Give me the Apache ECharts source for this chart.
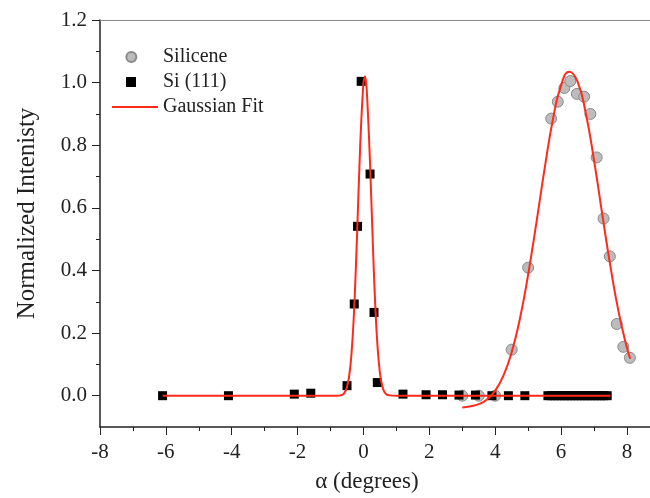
<!DOCTYPE html>
<html>
<head>
<meta charset="utf-8">
<script src="https://cdn.jsdelivr.net/npm/echarts@6/dist/echarts.min.js"></script>
<style>
  html, body { margin: 0; padding: 0; background: #fff; }
  #chart { width: 650px; height: 498px; }
</style>
</head>
<body>
<div id="chart"></div>
<script>
  var siliceneX = [3.0, 3.5, 4.0, 4.5, 5.0, 5.7, 5.9, 6.1, 6.28, 6.48, 6.7, 6.89, 7.08, 7.29, 7.48, 7.69, 7.89, 8.09];
  var siliceneY = [0.0, 0.0, 0.0, 0.147, 0.409, 0.885, 0.939, 0.983, 1.005, 0.964, 0.955, 0.9, 0.761, 0.566, 0.445, 0.229, 0.156, 0.121];

  var siX = [-6.1, -4.1, -2.1, -1.6, -0.5, -0.28, -0.18, -0.07, 0.2, 0.32, 0.42, 1.2, 1.9, 2.4, 2.9, 3.4, 3.9, 4.4, 4.9,
             5.6, 5.7, 5.8, 5.9, 6.0, 6.1, 6.2, 6.3, 6.4, 6.5, 6.6, 6.7, 6.8, 6.9, 7.0, 7.1, 7.2, 7.3, 7.4];
  var siY = [0.0, 0.0, 0.005, 0.008, 0.032, 0.293, 0.541, 1.004, 0.708, 0.266, 0.042, 0.005, 0.003, 0.003, 0.002, 0.002, 0.0, 0.0, 0.0,
             0, 0, 0, 0, 0, 0, 0, 0, 0, 0, 0, 0, 0, 0, 0, 0, 0, 0, 0];

  // fitted curves
  var siFitX = [-6.1, -1.2, -1.0, -0.8, -0.7, -0.6, -0.5, -0.4, -0.3, -0.2, -0.1, 0.0, 0.05, 0.1, 0.2, 0.3, 0.4, 0.5, 0.6, 0.7, 0.8, 1.0, 1.2, 7.5];
  var siFitY = [0.0, 0.0, 0.0, 0.0, 0.001, 0.006, 0.027, 0.091, 0.24, 0.497, 0.798, 1.0, 1.02, 0.975, 0.741, 0.438, 0.202, 0.072, 0.02, 0.004, 0.001, 0.0, 0.0, 0.0];

  var silFitX = [3.0, 3.25, 3.5, 3.75, 4.0, 4.25, 4.5, 4.75, 5.0, 5.25, 5.5, 5.75, 6.0, 6.25, 6.5, 6.75, 7.0, 7.25, 7.5, 7.75, 8.0, 8.1];
  var silFitY = [-0.038, -0.034, -0.027, -0.012, 0.016, 0.064, 0.139, 0.246, 0.387, 0.552, 0.725, 0.881, 0.991, 1.035, 1.003, 0.902, 0.752, 0.58, 0.412, 0.266, 0.153, 0.118];

  var xTicks = [-8, -6, -4, -2, 0, 2, 4, 6, 8];
  var yTicks = [0.0, 0.2, 0.4, 0.6, 0.8, 1.0, 1.2];
  var yMinorTicks = [0.1, 0.3, 0.5, 0.7, 0.9, 1.1];

  function pairs(xs, ys) {
    return xs.map(function (x, i) { return [x, ys[i]]; });
  }

  var font = '"Liberation Serif", "DejaVu Serif", serif';
  var ink = '#222';
  var red = '#ff2a1a';
  // legend icons laid out in the 46x10 item box, so marks sit left of centre like the original
  var boxPts = 'M0,0L0.01,0.01M46,10L45.99,9.99';
  var circleIcon = 'path://' + boxPts + 'M24.5,5A5.5,5.5,0,1,1,13.5,5A5.5,5.5,0,1,1,24.5,5Z';
  var squareIcon = 'path://' + boxPts + 'M14,0L24,0L24,10L14,10Z';
  var lineIcon = 'path://M0,4L46,4L46,6L0,6Z';

  var myChart = echarts.init(document.getElementById('chart'));

  var option = {
    animation: false,
    backgroundColor: '#fff',
    grid: { left: 100, right: 0, top: 20, bottom: 71, outerBoundsMode: 'none', containLabel: false },
    legend: {
      left: 107,
      top: 42,
      orient: 'vertical',
      itemWidth: 46,
      itemHeight: 10,
      itemGap: 5,
      textStyle: { fontFamily: font, fontSize: 20, color: ink, lineHeight: 20 },
      data: [
        { name: 'Silicene', icon: circleIcon },
        { name: 'Si (111)', icon: squareIcon },
        { name: 'Gaussian Fit', icon: lineIcon }
      ]
    },
    xAxis: [{
      type: 'value',
      min: -8,
      max: 8.7,
      interval: 2,
      name: 'α (degrees)',
      nameLocation: 'middle',
      nameGap: 43,
      nameTextStyle: { fontFamily: font, fontSize: 23, color: ink, padding: [0, 16, 0, 0] },
      axisLine: { onZero: false, lineStyle: { color: ink, width: 1.5 } },
      axisTick: { length: 8, lineStyle: { color: ink } },
      minorTick: { show: true, splitNumber: 2, length: 4, lineStyle: { color: ink } },
      splitLine: { show: false },
      axisLabel: {
        fontFamily: font, fontSize: 21, color: ink, margin: 15,
        showMaxLabel: false,
        formatter: function (v) { return xTicks.indexOf(v) >= 0 ? String(v) : ''; }
      }
    }, {
      type: 'value',
      position: 'top',
      min: -8,
      max: 8.7,
      axisLine: { show: true, onZero: false, lineStyle: { color: '#8a8a8a', width: 1.2 } },
      axisTick: { show: false },
      axisLabel: { show: false },
      splitLine: { show: false }
    }],
    yAxis: [{
      type: 'value',
      min: -0.1,
      max: 1.2,
      interval: 0.1,
      name: 'Normalized Intenisty',
      nameLocation: 'middle',
      nameGap: 60,
      nameTextStyle: { fontFamily: font, fontSize: 25, color: ink, padding: [0, 0, 0, 20] },
      axisLine: { show: true, onZero: false, lineStyle: { color: ink, width: 1.5 } },
      axisTick: { show: true, length: 8, customValues: yTicks, lineStyle: { color: ink } },
      splitLine: { show: false },
      axisLabel: {
        fontFamily: font, fontSize: 21, color: ink, margin: 13,
        customValues: yTicks,
        formatter: function (v) { return v.toFixed(1); }
      }
    }, {
      type: 'value',
      position: 'left',
      min: -0.1,
      max: 1.2,
      interval: 0.1,
      axisLine: { show: false, onZero: false },
      axisTick: { show: true, length: 4, customValues: yMinorTicks, lineStyle: { color: ink } },
      axisLabel: { show: false },
      splitLine: { show: false }
    }],
    series: [
      {
        name: 'Silicene',
        type: 'scatter',
        symbol: 'circle',
        symbolSize: 11,
        itemStyle: { color: '#bcbcbc', borderColor: '#8a8a8a', borderWidth: 1, opacity: 1 },
        data: pairs(siliceneX, siliceneY)
      },
      {
        name: 'Si (111)',
        type: 'scatter',
        symbol: 'rect',
        symbolSize: 9,
        itemStyle: { color: '#000', opacity: 1 },
        data: pairs(siX, siY)
      },
      {
        name: 'Gaussian Fit',
        type: 'line',
        symbol: 'none',
        smooth: 0.35,
        lineStyle: { color: red, width: 2 },
        itemStyle: { color: red },
        data: pairs(siFitX, siFitY)
      },
      {
        name: 'Gaussian Fit',
        type: 'line',
        symbol: 'none',
        smooth: 0.5,
        lineStyle: { color: red, width: 2 },
        itemStyle: { color: red },
        data: pairs(silFitX, silFitY)
      }
    ]
  };

  myChart.setOption(option);
</script>
</body>
</html>
